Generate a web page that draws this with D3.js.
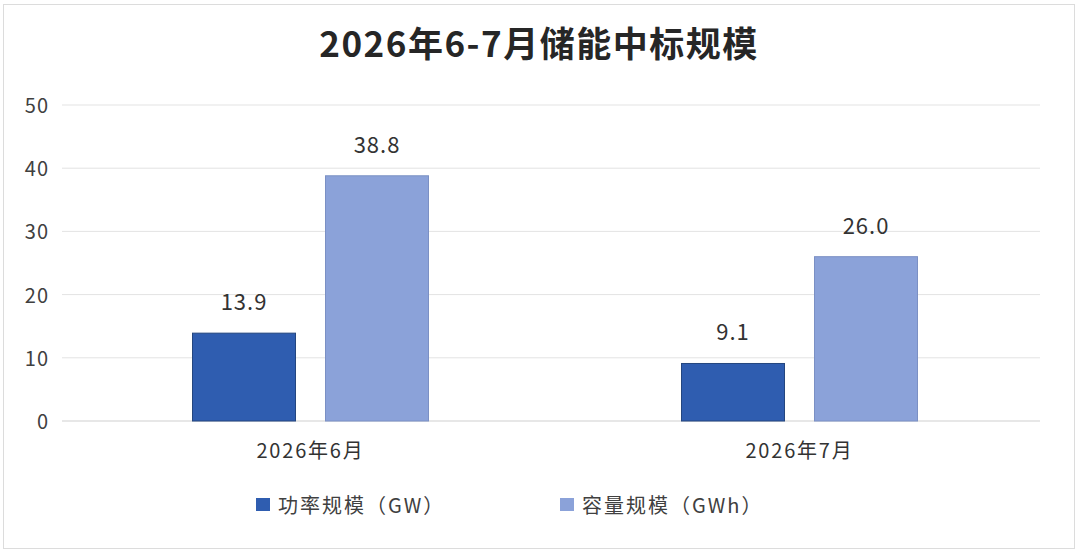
<!DOCTYPE html>
<html>
<head>
<meta charset="utf-8">
<script src="https://cdn.jsdelivr.net/npm/d3@7"></script>
<style>
  body { margin:0; background:#fff; }
  text { font-family:"Noto Sans CJK SC","Noto Sans",sans-serif; }
</style>
</head>
<body>
<div id="chart-area"></div>
<script>
// data
var months = ["2026年6月", "2026年7月"];
var seriesNames = ["功率规模（GW）", "容量规模（GWh）"];
var power = [13.9, 9.1];
var capacity = [38.8, 26.0];
var yTicks = [0, 10, 20, 30, 40, 50];

var colors = ["#2f5db0", "#8ba2d9"];
var strokes = ["#24467f", "#7b90c4"];

var W = 1080, H = 554;
var svg = d3.select("#chart-area").append("svg")
  .attr("width", W)
  .attr("height", H);

// frame
svg.append("rect")
  .attr("x", 3.5).attr("y", 4.5)
  .attr("width", W - 9).attr("height", H - 10)
  .attr("fill", "#fff")
  .attr("stroke", "#dcdcdc");

// title
svg.append("text")
  .attr("x", 539).attr("y", 57)
  .attr("text-anchor", "middle")
  .attr("font-size", 35)
  .attr("font-weight", "bold")
  .attr("letter-spacing", 1.5)
  .attr("fill", "#262626")
  .text("2026年6-7月储能中标规模");

/* scales */
var y = d3.scaleLinear().domain([0, 50]).range([421, 105]);
var x0 = d3.scaleBand().domain(months).range([66, 1044]);
var x1 = d3.scaleBand().domain([0, 1]).range([-118, 118]).paddingInner(0.2256);

// gridlines + y labels
var grid = svg.append("g");
yTicks.forEach(function(t){
  grid.append("line")
    .attr("x1", 62).attr("x2", 1040)
    .attr("y1", y(t)).attr("y2", y(t))
    .attr("stroke", t === 0 ? "#cfcfcf" : "#e3e3e3")
    .attr("stroke-width", 1);
  grid.append("text")
    .attr("x", 49).attr("y", y(t) + 8)
    .attr("text-anchor", "end")
    .attr("font-size", 20)
    .attr("letter-spacing", 1)
    .attr("fill", "#404040")
    .text(t);
});

// bars
var rows = months.map(function(m, i){ return {month:m, vals:[power[i], capacity[i]]}; });
var groups = svg.selectAll(".grp").data(rows).enter().append("g")
  .attr("class", "grp")
  .attr("transform", function(d){ return "translate(" + (x0(d.month) + x0.bandwidth()/2) + ",0)"; });

groups.selectAll("rect").data(function(d){ return d.vals; }).enter().append("rect")
  .attr("x", function(d, i){ return x1(i); })
  .attr("y", function(d){ return y(d); })
  .attr("width", x1.bandwidth())
  .attr("height", function(d){ return y(0) - y(d); })
  .attr("fill", function(d, i){ return colors[i]; })
  .attr("stroke", function(d, i){ return strokes[i]; })
  .attr("stroke-width", 1);

groups.selectAll(".val").data(function(d){ return d.vals; }).enter().append("text")
  .attr("class", "val")
  .attr("x", function(d, i){ return x1(i) + x1.bandwidth()/2; })
  .attr("y", function(d){ return y(d) - 23; })
  .attr("text-anchor", "middle")
  .attr("font-size", 22)
  .attr("letter-spacing", 1)
  .attr("fill", "#333")
  .text(function(d){ return d.toFixed(1); });

// x labels
groups.append("text")
  .attr("y", 458)
  .attr("text-anchor", "middle")
  .attr("font-size", 20)
  .attr("letter-spacing", 1.8)
  .attr("fill", "#333")
  .text(function(d){ return d.month; });

// legend
var legX = [256, 560];
seriesNames.forEach(function(s, i){
  var lg = svg.append("g").attr("transform", "translate(" + legX[i] + ",498)");
  lg.append("rect")
    .attr("width", 14).attr("height", 13)
    .attr("fill", colors[i]);
  lg.append("text")
    .attr("x", 22).attr("y", 15)
    .attr("font-size", 20)
    .attr("letter-spacing", 2)
    .attr("fill", "#404040")
    .text(s);
});
</script>
</body>
</html>
